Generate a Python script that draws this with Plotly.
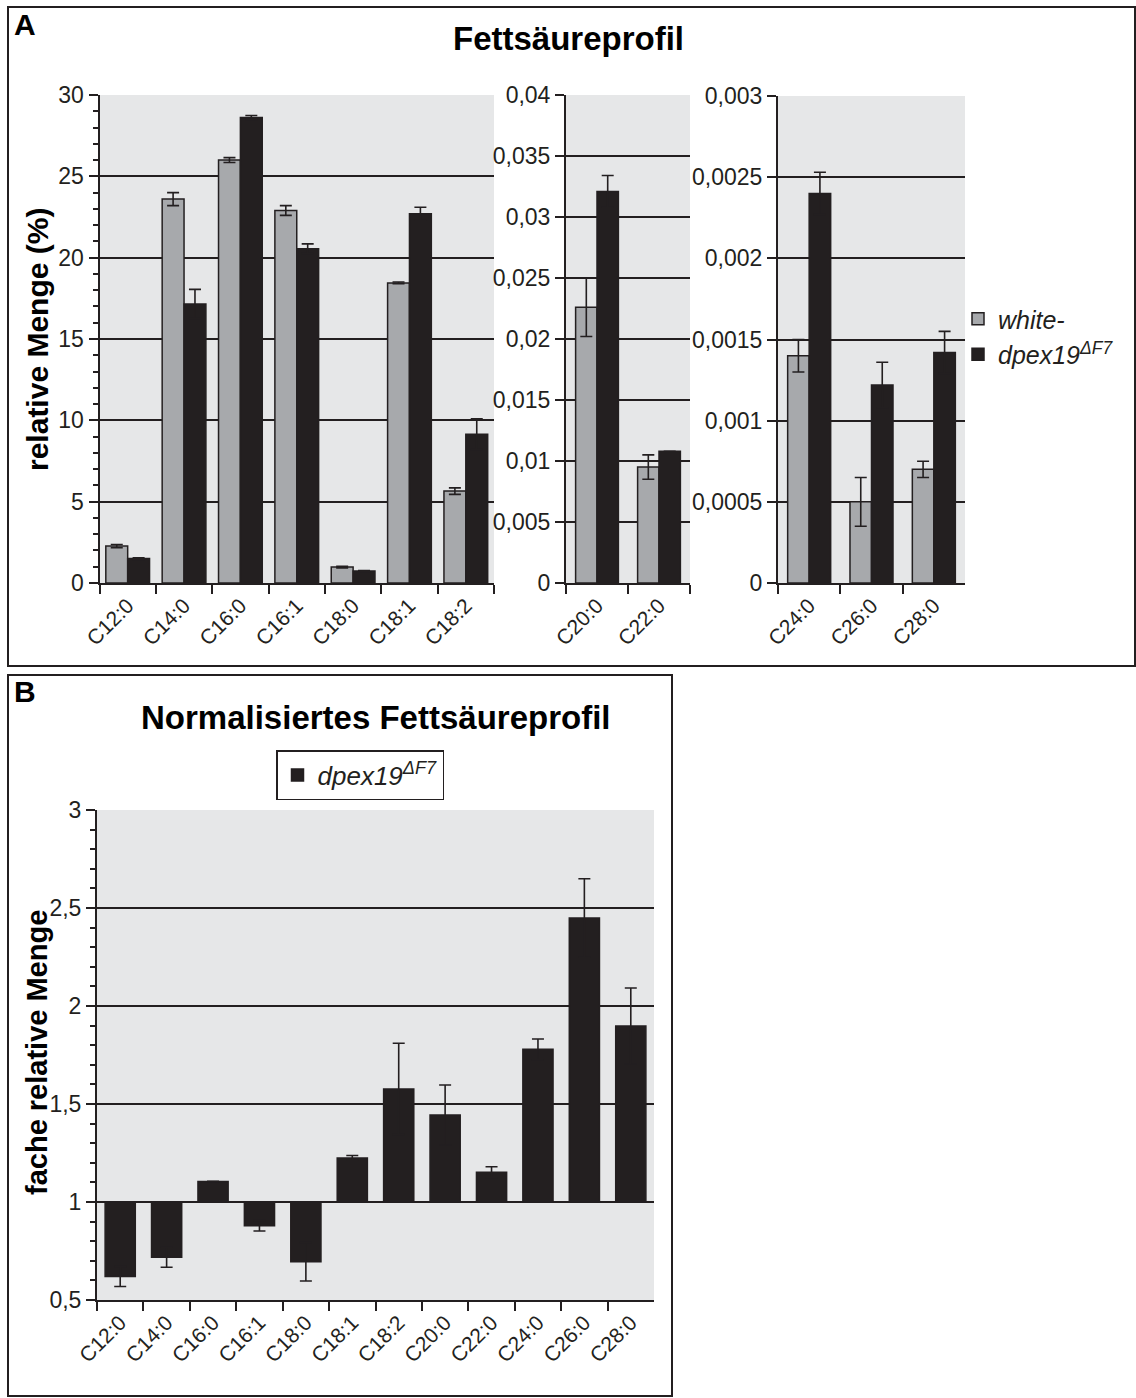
import plotly.graph_objects as go

W, H = 1136, 1398
DARK = "#231f20"
GRAY = "#a7a9ac"
BG = "#e6e7e8"
FONT = "Liberation Sans, Arial, Helvetica, sans-serif"

# ---------------- data: panel A ----------------
cats_a1 = ["C12:0", "C14:0", "C16:0", "C16:1", "C18:0", "C18:1", "C18:2"]
white_a1 = [2.27, 23.6, 26.0, 22.9, 0.98, 18.45, 5.65]
white_a1_err = [0.1, 0.4, 0.15, 0.3, 0.05, 0.05, 0.2]
dpex_a1 = [1.5, 17.15, 28.62, 20.55, 0.74, 22.7, 9.15]
dpex_a1_err = [0.05, 0.9, 0.12, 0.3, 0.03, 0.4, 0.95]

cats_a2 = ["C20:0", "C22:0"]
white_a2 = [0.0226, 0.0095]
white_a2_err = [0.0024, 0.001]
dpex_a2 = [0.0321, 0.0108]
dpex_a2_err = [0.0013, 0.0]

cats_a3 = ["C24:0", "C26:0", "C28:0"]
white_a3 = [0.0014, 0.0005, 0.0007]
white_a3_err = [0.0001, 0.00015, 0.00005]
dpex_a3 = [0.0024, 0.00122, 0.00142]
dpex_a3_err = [0.00013, 0.00014, 0.00013]

ticks_a1 = [0, 5, 10, 15, 20, 25, 30]
ticklabels_a1 = ["0", "5", "10", "15", "20", "25", "30"]
ticks_a2 = [0, 0.005, 0.01, 0.015, 0.02, 0.025, 0.03, 0.035, 0.04]
ticklabels_a2 = ["0", "0,005", "0,01", "0,015", "0,02", "0,025", "0,03", "0,035", "0,04"]
ticks_a3 = [0, 0.0005, 0.001, 0.0015, 0.002, 0.0025, 0.003]
ticklabels_a3 = ["0", "0,0005", "0,001", "0,0015", "0,002", "0,0025", "0,003"]

# ---------------- data: panel B ----------------
cats_b = ["C12:0", "C14:0", "C16:0", "C16:1", "C18:0", "C18:1", "C18:2",
          "C20:0", "C22:0", "C24:0", "C26:0", "C28:0"]
norm_b = [0.62, 0.718, 1.105, 0.879, 0.695, 1.225, 1.577, 1.444, 1.152, 1.779, 2.449, 1.898]
norm_b_err = [0.051, 0.051, 0.0, 0.027, 0.098, 0.012, 0.233, 0.153, 0.028, 0.053, 0.2, 0.194]
baseline_b = 1.0
ticks_b = [0.5, 1, 1.5, 2, 2.5, 3]
ticklabels_b = ["0,5", "1", "1,5", "2", "2,5", "3"]

NAME_W = "<i>white-</i>"
NAME_D = "<i>dpex19<sup>ΔF7</sup></i>"


def px(x):
    return x / W


def py(y):
    return 1 - y / H


fig = go.Figure()


def err(vals):
    return dict(type="data", array=vals, visible=True, color=DARK, thickness=1.6, width=6)


def pair(cats, wv, we, dv, de, xa, ya, w, show):
    fig.add_trace(go.Bar(x=cats, y=wv, error_y=err(we), width=w, offset=-w,
                         marker=dict(color=GRAY, line=dict(color=DARK, width=1.5)),
                         name=NAME_W, legendgroup="w", showlegend=show,
                         xaxis=xa, yaxis=ya, legend="legend"))
    fig.add_trace(go.Bar(x=cats, y=dv, error_y=err(de), width=w, offset=0,
                         marker=dict(color=DARK, line=dict(color=DARK, width=1.5)),
                         name=NAME_D, legendgroup="d", showlegend=show,
                         xaxis=xa, yaxis=ya, legend="legend"))


pair(cats_a1, white_a1, white_a1_err, dpex_a1, dpex_a1_err, "x", "y", 0.388, True)
pair(cats_a2, white_a2, white_a2_err, dpex_a2, dpex_a2_err, "x2", "y2", 0.345, False)
pair(cats_a3, white_a3, white_a3_err, dpex_a3, dpex_a3_err, "x3", "y3", 0.345, False)

fig.add_trace(go.Bar(x=cats_b, y=[v - baseline_b for v in norm_b], base=baseline_b,
                     error_y=err(norm_b_err), width=0.65, offset=-0.325,
                     marker=dict(color=DARK, line=dict(color=DARK, width=1.5)),
                     name=NAME_D, showlegend=True, xaxis="x4", yaxis="y4",
                     legend="legend2"))

xcommon = dict(type="category", showline=True, linecolor=DARK, linewidth=2,
               ticks="outside", tickson="boundaries", ticklen=9, tickwidth=2,
               tickcolor=DARK, tickangle=-45, showgrid=False, zeroline=False,
               automargin=False,
               tickfont=dict(family=FONT, size=21, color=DARK), fixedrange=True)
ycommon = dict(showline=True, linecolor=DARK, linewidth=2, ticks="outside",
               ticklen=9, tickwidth=2, tickcolor=DARK, showgrid=True,
               gridcolor=DARK, gridwidth=1.6, zeroline=False, tickmode="array",
               automargin=False,
               tickfont=dict(family=FONT, size=23, color=DARK), fixedrange=True)

yA = [py(583), py(95)]
fig.update_layout(
    width=W, height=H,
    margin=dict(l=0, r=0, t=0, b=0, pad=0, autoexpand=False),
    paper_bgcolor="white", plot_bgcolor=BG,
    barmode="overlay",
    font=dict(family=FONT, color=DARK),
    xaxis=dict(xcommon, domain=[px(99.5), px(494)], anchor="y"),
    yaxis=dict(ycommon, domain=yA, range=[0, 30], anchor="x",
               tickvals=ticks_a1, ticktext=ticklabels_a1,
               minor=dict(tickmode="linear", tick0=0, dtick=1, ticks="outside",
                          ticklen=5, tickwidth=1.5, tickcolor=DARK, showgrid=False)),
    xaxis2=dict(xcommon, domain=[px(566), px(690)], anchor="y2"),
    yaxis2=dict(ycommon, domain=yA, range=[0, 0.04], anchor="x2",
                tickvals=ticks_a2, ticktext=ticklabels_a2),
    xaxis3=dict(xcommon, domain=[px(778), px(965)], anchor="y3"),
    yaxis3=dict(ycommon, domain=[py(583), py(96)], range=[0, 0.003], anchor="x3",
                tickvals=ticks_a3, ticktext=ticklabels_a3),
    xaxis4=dict(xcommon, domain=[px(97), px(654)], anchor="y4"),
    yaxis4=dict(ycommon, domain=[py(1300), py(810)], range=[0.5, 3], anchor="x4",
                tickvals=ticks_b, ticktext=ticklabels_b,
                minor=dict(tickmode="linear", tick0=0.5, dtick=0.1, ticks="outside",
                           ticklen=5, tickwidth=1.5, tickcolor=DARK, showgrid=False)),
    legend=dict(x=px(958), y=py(296), xanchor="left", yanchor="top",
                font=dict(family=FONT, size=25, color=DARK),
                bgcolor="rgba(0,0,0,0)", borderwidth=0, traceorder="normal"),
    legend2=dict(x=px(360), y=py(775), xanchor="center", yanchor="middle",
                 font=dict(family=FONT, size=26, color=DARK),
                 bgcolor="white", bordercolor=DARK, borderwidth=1.5),
)

# panel frames
fig.add_shape(type="rect", xref="paper", yref="paper", x0=px(8), x1=px(1135),
              y0=py(666), y1=py(7), line=dict(color=DARK, width=2), fillcolor="rgba(0,0,0,0)")
fig.add_shape(type="rect", xref="paper", yref="paper", x0=px(8), x1=px(672),
              y0=py(1396), y1=py(675), line=dict(color=DARK, width=2), fillcolor="rgba(0,0,0,0)")

ann = [
    dict(text="<b>A</b>", x=px(12), y=py(25), size=30, xanchor="left"),
    dict(text="<b>B</b>", x=px(12), y=py(692), size=30, xanchor="left"),
    dict(text="<b>Fettsäureprofil</b>", x=px(568), y=py(38), size=33, xanchor="center"),
    dict(text="<b>Normalisiertes Fettsäureprofil</b>", x=px(375), y=py(717), size=33,
         xanchor="center"),
]
for a in ann:
    fig.add_annotation(text=a["text"], x=a["x"], y=a["y"], xref="paper", yref="paper",
                       xanchor=a["xanchor"], yanchor="middle", showarrow=False,
                       font=dict(family=FONT, size=a["size"], color="black"))

fig.add_annotation(text="<b>relative Menge (%)</b>", x=px(37), y=py(340), xref="paper",
                   yref="paper", textangle=-90, showarrow=False, xanchor="center",
                   yanchor="middle", font=dict(family=FONT, size=30, color="black"))
fig.add_annotation(text="<b>fache relative Menge</b>", x=px(37), y=py(1053), xref="paper",
                   yref="paper", textangle=-90, showarrow=False, xanchor="center",
                   yanchor="middle", font=dict(family=FONT, size=29, color="black"))

fig.write_html("out.html")
